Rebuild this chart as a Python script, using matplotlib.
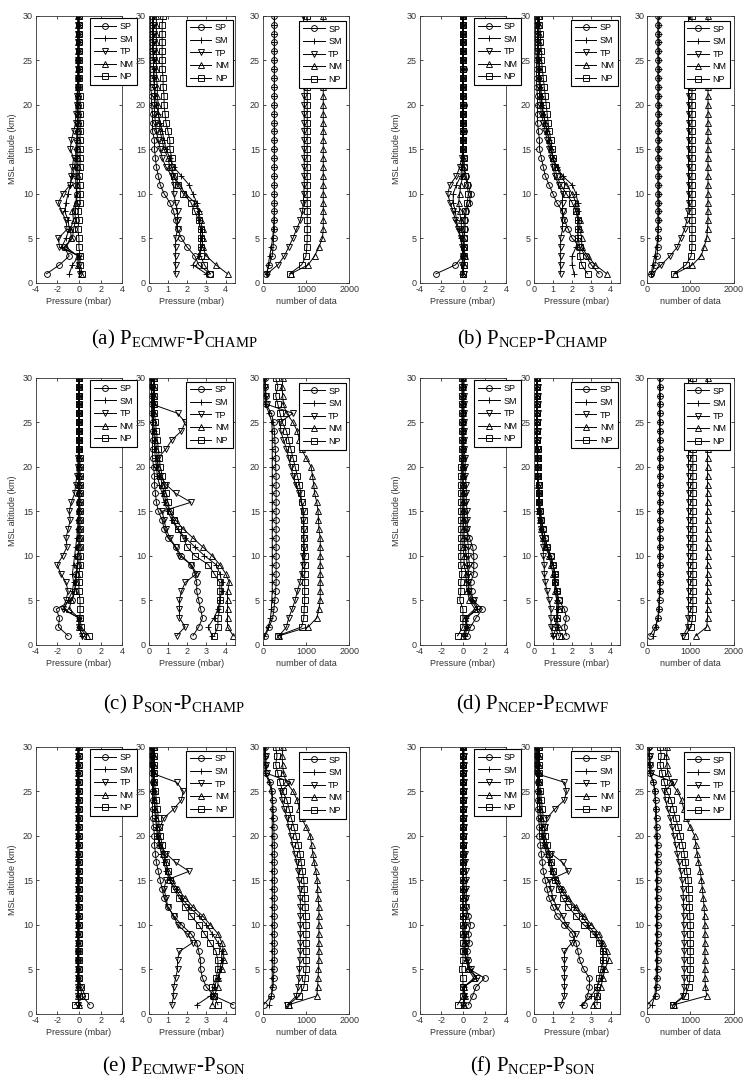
import numpy as np
import matplotlib
matplotlib.use("Agg")
import matplotlib.pyplot as plt

plt.rcParams["font.family"] = ["Liberation Sans", "DejaVu Sans"]
plt.rcParams["mathtext.fontset"] = "custom"
plt.rcParams["mathtext.rm"] = "Liberation Serif"
plt.rcParams["axes.unicode_minus"] = False

# altitude levels (km) and the five latitude bands
alt = np.arange(1, 31)
band_names = ["SP", "SM", "TP", "NM", "NP"]
band_markers = ["o", "+", "v", "^", "s"]

######### (a) ECMWF - CHAMP #########
# rows: SP, SM, TP, NM, NP
a_mean = [
    [-3.0,-1.8,-0.9,-1.4,-0.6,-0.5,-0.3,-0.4,-0.2,-0.2,-0.3,-0.3,-0.2,-0.2,-0.2,-0.2,-0.1,-0.1,-0.1,-0.1,-0.1,-0.1,-0.1,0.0,-0.1,0.0,0.0,0.0,0.0,0.0],
    [-0.9,-0.6,0.0,-1.6,-1.2,-0.9,-1.0,-1.3,-1.2,-1.0,-0.8,-0.6,-0.4,-0.3,-0.3,-0.2,-0.2,-0.1,-0.1,-0.1,-0.1,-0.1,0.0,0.0,0.0,0.0,0.0,0.0,0.0,0.0],
    [0.1,0.0,0.0,-1.8,-1.9,-1.1,-1.2,-1.6,-1.9,-1.5,-0.8,-0.7,-0.6,-0.5,-0.8,-0.7,-0.5,-0.3,-0.3,-0.2,-0.2,-0.1,-0.1,-0.1,-0.1,-0.1,-0.1,-0.1,-0.1,-0.1],
    [0.2,-0.1,-0.1,-1.2,-0.7,-0.8,-0.5,-0.6,-0.3,-0.2,-0.2,-0.1,-0.1,-0.1,-0.1,-0.1,-0.1,-0.1,-0.1,-0.1,-0.1,-0.1,-0.1,-0.1,-0.1,-0.1,-0.1,-0.1,-0.1,-0.1],
    [0.3,0.1,0.1,0.0,0.0,-0.1,0.0,-0.1,0.1,0.1,0.1,0.0,0.1,0.1,0.1,0.1,0.1,0.1,0.1,0.1,0.1,0.0,0.0,0.0,0.0,0.0,0.0,0.0,0.0,0.0],
]
a_rms = [
    [3.2,2.6,2.4,2.0,1.7,1.5,1.4,1.3,1.1,0.8,0.6,0.5,0.4,0.35,0.3,0.3,0.2,0.2,0.2,0.15,0.15,0.1,0.1,0.1,0.1,0.1,0.1,0.1,0.1,0.1],
    [3.0,2.3,2.6,2.7,2.7,2.7,2.6,2.6,2.5,2.3,2.1,1.7,1.3,1.1,0.9,0.8,0.7,0.6,0.5,0.4,0.35,0.3,0.3,0.25,0.25,0.2,0.2,0.2,0.2,0.2],
    [1.4,1.4,1.4,1.4,1.4,1.5,1.5,1.5,1.4,1.3,1.3,1.2,0.9,0.7,0.6,0.5,0.4,0.35,0.3,0.3,0.3,0.3,0.25,0.25,0.25,0.25,0.25,0.25,0.25,0.25],
    [4.1,3.5,3.0,2.8,2.8,2.8,2.7,2.6,2.4,1.9,1.6,1.3,1.1,1.0,0.8,0.7,0.6,0.55,0.5,0.5,0.45,0.45,0.4,0.4,0.4,0.4,0.4,0.4,0.4,0.4],
    [3.2,2.9,2.7,2.7,2.7,2.7,2.6,2.4,2.2,1.8,1.5,1.3,1.2,1.2,1.1,1.1,1.0,0.9,0.85,0.8,0.8,0.75,0.75,0.7,0.7,0.7,0.7,0.7,0.7,0.75],
]
a_num = [
    [80,150,220,240,250,260,270,270,270,270,270,270,270,270,270,270,270,270,270,270,270,270,270,270,270,270,270,270,270,270],
    [100,130,160,200,230,250,260,270,270,270,270,270,270,270,270,270,270,270,270,270,270,270,270,270,270,270,270,270,270,270],
    [100,350,500,600,700,780,870,920,940,950,960,960,960,960,960,960,960,960,960,960,960,960,960,960,960,960,960,960,950,940],
    [650,1050,1200,1300,1380,1400,1400,1400,1400,1400,1400,1400,1400,1400,1400,1400,1400,1400,1400,1400,1400,1400,1400,1400,1400,1400,1400,1400,1400,1400],
    [620,900,1000,1020,1030,1030,1030,1030,1030,1030,1030,1030,1030,1030,1030,1030,1030,1030,1030,1030,1030,1030,1030,1030,1030,1030,1030,1030,1030,1030],
]

######### (b) NCEP - CHAMP #########
b_mean = [
    [-2.5,-0.7,0.0,0.1,0.1,0.2,0.2,0.3,0.6,0.7,0.5,0.3,0.1,0.1,0.0,0.0,0.1,0.0,0.0,0.1,0.0,0.0,0.0,0.1,0.0,0.0,0.0,0.0,0.0,0.0],
    [-0.1,0.0,0.0,0.0,-0.2,-0.4,-0.6,-0.7,-0.9,-0.9,-0.6,-0.2,-0.1,0.0,0.0,0.0,0.0,0.0,0.0,0.0,0.0,0.0,0.0,0.0,0.0,0.0,0.0,0.0,0.0,0.0],
    [0.1,-0.1,0.0,-0.1,-0.2,-0.5,-0.7,-0.9,-1.2,-1.4,-1.2,-0.6,-0.3,-0.1,0.0,0.0,0.0,0.0,0.0,0.0,0.0,0.0,0.0,0.0,0.0,0.0,0.0,0.0,0.0,0.0],
    [0.0,0.1,0.2,0.1,0.0,-0.1,-0.2,-0.3,-0.4,-0.3,-0.2,0.0,0.0,0.0,0.0,0.0,0.0,0.0,0.0,0.0,0.0,0.0,0.0,0.0,0.0,0.0,0.0,0.0,0.0,0.0],
    [0.0,0.1,0.1,0.1,0.1,0.1,0.1,0.2,0.4,0.5,0.4,0.2,0.1,0.1,0.0,0.0,0.0,0.0,0.0,0.0,0.0,0.0,0.0,0.0,0.0,0.0,0.0,0.0,0.0,0.0],
]
b_rms = [
    [3.4,3.0,2.7,2.4,2.0,1.8,1.6,1.5,1.2,1.0,0.8,0.6,0.5,0.4,0.3,0.3,0.25,0.2,0.2,0.2,0.2,0.15,0.15,0.15,0.15,0.1,0.1,0.1,0.1,0.1],
    [2.1,2.0,2.0,2.2,2.3,2.3,2.3,2.3,2.3,2.2,2.0,1.5,1.2,1.0,0.9,0.8,0.7,0.6,0.5,0.45,0.4,0.35,0.3,0.3,0.25,0.25,0.2,0.2,0.2,0.2],
    [1.4,1.4,1.4,1.4,1.4,1.5,1.5,1.5,1.5,1.5,1.3,1.1,1.0,0.9,0.8,0.7,0.6,0.5,0.4,0.35,0.3,0.3,0.25,0.25,0.2,0.2,0.2,0.2,0.2,0.2],
    [3.8,3.2,2.8,2.5,2.5,2.4,2.4,2.2,2.2,2.0,1.7,1.4,1.2,1.0,0.9,0.8,0.7,0.6,0.5,0.4,0.4,0.35,0.3,0.3,0.3,0.25,0.25,0.25,0.25,0.25],
    [2.8,2.5,2.4,2.4,2.3,2.3,2.3,2.2,2.0,1.7,1.4,1.2,1.1,1.0,0.95,0.9,0.8,0.75,0.7,0.65,0.6,0.55,0.5,0.45,0.4,0.4,0.35,0.35,0.3,0.3],
]
b_num = [
    [100,180,230,250,250,250,250,250,250,250,250,250,250,250,250,250,250,250,250,250,250,250,250,250,250,250,250,250,250,250],
    [100,130,180,220,250,260,270,270,270,270,270,270,270,270,270,270,270,270,270,270,270,270,270,270,270,270,270,270,270,270],
    [120,330,530,700,780,870,920,950,960,960,960,960,960,960,960,960,960,960,960,960,960,960,960,960,960,960,960,960,960,960],
    [650,1050,1250,1320,1380,1400,1410,1410,1410,1410,1410,1410,1410,1410,1410,1410,1410,1410,1410,1410,1410,1410,1410,1410,1410,1410,1410,1410,1410,1410],
    [620,900,1020,1040,1040,1040,1040,1040,1040,1040,1040,1040,1040,1040,1040,1040,1040,1040,1040,1040,1040,1040,1040,1040,1040,1040,1040,1040,1040,1040],
]

######### (c) SON - CHAMP #########
c_mean = [
    [-1.0,-1.9,-1.8,-2.1,-0.6,-0.4,-0.3,-0.3,-0.1,-0.1,0.0,0.0,0.0,0.0,0.0,0.0,0.0,0.0,0.0,0.0,0.0,0.0,0.0,0.0,0.0,0.0,0.0,0.0,0.0,0.0],
    [0.3,0.0,0.0,-1.4,-1.0,-0.6,-0.5,-0.6,-0.5,-0.4,-0.3,-0.2,-0.1,-0.1,0.0,0.0,0.0,0.0,0.0,0.0,0.0,0.0,0.0,0.0,0.0,0.0,0.0,0.0,0.0,0.0],
    [0.3,0.0,0.0,-1.5,-1.2,-1.0,-1.2,-1.7,-2.0,-1.5,-1.1,-1.2,-1.0,-0.8,-0.9,-0.7,-0.4,-0.3,-0.2,-0.1,-0.1,0.0,0.0,0.0,0.0,0.0,0.0,0.0,0.0,0.0],
    [0.7,0.0,0.0,-0.9,-0.7,-0.4,-0.3,-0.2,-0.1,-0.1,0.0,0.0,0.0,0.0,0.0,0.0,0.0,0.0,0.0,0.0,0.0,0.0,0.0,0.0,0.0,0.0,0.0,0.0,0.0,0.0],
    [0.9,0.2,0.1,0.1,0.1,0.0,0.0,0.0,0.1,0.1,0.1,0.1,0.1,0.1,0.1,0.1,0.1,0.1,0.1,0.1,0.1,0.0,0.0,0.0,0.0,0.0,0.0,0.0,0.0,0.0],
]
c_rms = [
    [2.3,2.6,2.8,2.7,2.6,2.5,2.5,2.4,2.2,1.7,1.4,1.0,0.8,0.7,0.5,0.4,0.35,0.3,0.3,0.25,0.2,0.2,0.2,0.2,0.2,0.15,0.15,0.15,0.15,0.15],
    [3.3,3.1,3.4,3.6,3.7,3.8,3.8,3.7,3.5,2.9,2.4,1.9,1.5,1.2,1.0,0.8,0.7,0.55,0.45,0.4,0.35,0.3,0.3,0.25,0.2,0.2,0.2,0.15,0.15,0.15],
    [1.45,1.9,1.6,1.6,1.6,1.7,1.9,2.5,2.2,1.6,1.4,1.1,0.9,0.8,0.7,2.2,1.4,0.9,0.6,0.4,0.5,0.9,1.2,1.7,1.9,1.5,0.2,0.2,0.1,0.1],
    [4.4,4.1,4.1,4.1,4.1,4.1,4.2,4.0,3.7,3.3,2.8,2.3,1.8,1.4,1.1,0.9,0.8,0.7,0.6,0.5,0.45,0.4,0.35,0.3,0.25,0.25,0.25,0.25,0.25,0.25],
    [3.4,3.6,3.6,3.7,3.7,3.7,3.7,3.4,3.1,2.4,2.0,1.8,1.5,1.3,1.1,1.0,0.9,0.8,0.7,0.6,0.55,0.5,0.45,0.4,0.35,0.3,0.3,0.3,0.3,0.3],
]
c_num = [
    [60,150,230,260,280,300,310,310,310,310,310,310,310,310,310,310,310,310,310,300,300,290,280,270,250,200,80,70,60,50],
    [40,130,180,200,210,220,220,220,220,220,220,220,220,220,220,220,220,220,220,220,220,220,220,220,210,150,60,50,50,40],
    [380,550,600,680,750,800,860,900,930,940,950,950,950,940,930,900,850,760,700,650,600,550,480,420,400,700,100,80,60,60],
    [380,1050,1250,1300,1330,1330,1330,1330,1330,1330,1330,1330,1300,1290,1280,1250,1200,1180,1150,1120,1000,900,850,800,700,550,480,460,450,470],
    [350,900,950,960,970,970,970,970,970,970,960,950,950,950,950,900,880,850,800,750,700,650,600,550,450,400,350,300,350,300],
]

######### (d) NCEP - ECMWF #########
d_mean = [
    [0.4,0.7,1.2,1.8,0.9,0.8,0.7,1.0,1.0,1.0,0.9,0.6,0.3,0.2,0.1,0.1,0.1,0.0,0.0,0.0,0.0,0.0,0.0,0.0,0.0,0.0,0.0,0.0,0.0,0.0],
    [0.2,0.4,0.3,1.3,0.8,0.5,0.5,0.5,0.4,0.3,0.2,0.1,0.1,0.0,0.0,0.0,0.0,0.0,0.0,0.0,0.0,0.0,0.0,0.0,0.0,0.0,0.0,0.0,0.0,0.0],
    [0.1,0.3,0.3,1.4,1.0,0.6,0.5,0.5,0.6,0.5,0.5,0.4,0.4,0.4,0.4,0.3,0.3,0.3,0.2,0.2,0.2,0.1,0.1,0.1,0.1,0.1,0.1,0.1,0.1,0.1],
    [0.0,0.3,0.2,1.1,0.6,0.4,0.3,0.3,0.1,0.1,0.0,0.0,0.0,0.0,0.0,0.0,0.0,0.0,0.0,0.0,0.0,0.0,0.0,0.0,0.0,0.0,0.0,0.0,0.0,0.0],
    [-0.5,0.0,0.0,0.0,-0.3,-0.2,-0.2,-0.1,-0.2,-0.2,-0.2,-0.2,-0.2,-0.2,-0.2,-0.2,-0.2,-0.2,-0.15,-0.15,-0.1,-0.1,-0.1,-0.1,-0.1,-0.1,-0.1,-0.1,-0.1,-0.1],
]
d_rms = [
    [1.7,1.6,1.7,1.6,1.3,1.2,1.1,1.1,1.0,0.9,0.7,0.6,0.5,0.4,0.35,0.3,0.3,0.25,0.2,0.2,0.2,0.2,0.15,0.15,0.15,0.15,0.15,0.15,0.15,0.15],
    [1.0,1.2,1.2,1.2,1.2,1.2,1.1,1.1,1.0,0.8,0.7,0.5,0.4,0.35,0.3,0.25,0.25,0.2,0.2,0.2,0.2,0.2,0.15,0.15,0.15,0.15,0.15,0.15,0.15,0.15],
    [1.0,0.9,0.9,0.9,0.8,0.7,0.6,0.55,0.55,0.5,0.5,0.45,0.4,0.35,0.3,0.25,0.25,0.25,0.2,0.2,0.2,0.2,0.2,0.2,0.2,0.2,0.2,0.2,0.2,0.2],
    [1.4,1.3,1.2,1.3,1.2,1.1,1.1,1.0,0.9,0.8,0.6,0.5,0.4,0.35,0.3,0.25,0.25,0.2,0.2,0.2,0.2,0.15,0.15,0.15,0.15,0.15,0.15,0.15,0.15,0.15],
    [1.3,1.1,1.2,1.3,1.3,1.2,1.1,1.1,1.0,0.9,0.7,0.6,0.5,0.4,0.35,0.3,0.3,0.25,0.2,0.2,0.2,0.2,0.15,0.15,0.15,0.15,0.15,0.15,0.15,0.15],
]
d_num = [
    [60,190,260,280,290,300,300,300,300,300,300,300,300,300,300,300,300,300,300,300,300,300,300,300,300,300,300,300,300,300],
    [150,200,250,270,280,290,290,290,290,290,290,290,290,290,290,290,290,290,290,290,290,290,290,290,290,290,290,290,290,290],
    [840,940,950,960,960,960,960,960,960,960,960,960,960,960,960,960,960,960,960,960,960,960,960,960,960,960,960,960,960,960],
    [1130,1380,1400,1400,1400,1400,1400,1400,1400,1400,1400,1400,1400,1400,1400,1400,1400,1400,1400,1400,1400,1400,1400,1400,1400,1400,1400,1400,1400,1400],
    [880,1020,1050,1060,1060,1060,1060,1060,1060,1060,1060,1060,1060,1060,1060,1060,1060,1060,1060,1060,1060,1060,1060,1060,1060,1060,1060,1060,1060,1060],
]

######### (e) ECMWF - SON #########
e_mean = [
    [1.0,0.3,0.1,0.0,0.0,-0.1,-0.1,0.0,0.0,0.0,0.0,0.0,0.0,0.0,0.0,0.0,0.0,0.0,0.0,0.0,0.0,0.0,0.0,0.0,0.0,0.0,0.0,0.0,0.0,0.0],
    [0.0,-0.1,-0.1,-0.1,-0.1,-0.1,-0.1,-0.1,-0.1,-0.1,-0.1,-0.1,-0.1,-0.1,-0.1,-0.1,-0.1,-0.1,-0.1,-0.1,-0.1,-0.1,-0.1,-0.1,-0.1,-0.1,-0.1,-0.1,-0.1,-0.1],
    [-0.1,-0.1,-0.1,-0.1,-0.1,-0.1,-0.1,-0.1,-0.1,-0.1,-0.1,-0.1,-0.1,-0.1,-0.1,-0.1,-0.1,-0.1,-0.1,-0.1,-0.1,-0.1,-0.1,-0.1,-0.1,-0.1,-0.1,-0.1,-0.1,-0.1],
    [0.0,-0.1,-0.1,-0.1,-0.1,-0.1,-0.1,-0.1,-0.1,-0.1,-0.1,-0.1,-0.1,-0.1,-0.1,-0.1,-0.1,-0.1,-0.1,-0.1,-0.1,-0.1,-0.1,-0.1,-0.1,-0.1,-0.1,-0.1,-0.1,-0.1],
    [-0.4,0.6,0.2,0.0,0.0,0.0,0.0,0.0,0.0,0.0,0.0,0.0,0.0,0.0,0.0,0.0,0.0,0.0,0.0,0.0,0.0,0.0,0.0,0.0,0.0,0.0,0.0,0.0,0.0,0.0],
]
e_rms = [
    [4.4,3.4,3.0,2.8,2.7,2.7,2.6,2.5,2.2,1.7,1.3,1.0,0.8,0.7,0.6,0.5,0.4,0.35,0.3,0.3,0.25,0.2,0.2,0.2,0.2,0.2,0.15,0.15,0.15,0.15],
    [2.5,3.2,3.4,3.6,3.7,3.8,3.8,3.6,3.3,3.0,2.6,2.1,1.7,1.4,1.1,0.9,0.8,0.65,0.55,0.45,0.4,0.35,0.3,0.3,0.25,0.25,0.2,0.2,0.2,0.2],
    [1.2,1.3,1.3,1.4,1.5,1.5,1.6,2.3,2.0,1.5,1.3,1.0,0.9,0.8,0.9,2.1,1.4,0.9,0.6,0.5,0.6,0.8,1.3,1.7,1.8,1.45,0.2,0.1,0.1,0.1],
    [3.3,3.4,3.6,3.6,3.8,3.9,3.9,3.8,3.6,3.2,2.8,2.3,1.9,1.5,1.2,1.0,0.9,0.75,0.6,0.5,0.45,0.4,0.35,0.3,0.25,0.25,0.25,0.25,0.25,0.25],
    [3.6,3.4,3.3,3.5,3.6,3.6,3.5,3.2,2.9,2.6,2.2,1.9,1.6,1.3,1.1,1.0,0.9,0.8,0.7,0.6,0.55,0.5,0.45,0.4,0.35,0.3,0.3,0.3,0.3,0.3],
]
e_num = [
    [20,200,240,250,260,270,270,270,270,270,270,270,270,270,270,270,270,270,270,260,260,250,240,230,220,180,70,60,50,50],
    [150,200,220,220,220,220,220,220,220,220,220,220,220,220,220,220,220,220,220,220,220,220,220,220,200,150,60,50,50,40],
    [570,780,820,840,850,860,870,870,870,870,870,870,870,860,840,820,790,740,690,650,600,560,500,450,420,650,100,80,70,60],
    [600,1250,1270,1280,1290,1300,1300,1300,1300,1300,1300,1300,1280,1270,1260,1230,1190,1160,1130,1100,1000,900,850,800,700,550,480,460,450,470],
    [590,850,950,980,1000,1000,1000,1000,1000,1000,990,980,970,960,950,920,890,860,820,770,720,660,610,560,460,400,350,300,330,300],
]

######### (f) NCEP - SON #########
f_mean = [
    [0.5,0.9,1.2,2.0,0.6,0.5,0.4,0.6,0.5,0.7,0.5,0.3,0.2,0.1,0.1,0.0,0.0,0.0,0.0,0.0,0.0,0.0,0.0,0.0,0.0,0.0,0.0,0.0,0.0,0.0],
    [0.0,0.2,0.1,1.2,0.6,0.3,0.2,0.2,0.1,0.1,0.0,0.0,0.0,0.0,0.0,0.0,0.0,0.0,0.0,0.0,0.0,0.0,0.0,0.0,0.0,0.0,0.0,0.0,0.0,0.0],
    [0.0,0.1,0.0,1.3,0.7,0.4,0.1,0.3,0.2,0.2,0.3,0.3,0.3,0.3,0.3,0.3,0.2,0.2,0.1,0.1,0.1,0.1,0.1,0.1,0.1,0.1,0.1,0.1,0.1,0.1],
    [0.1,0.2,0.1,1.0,0.5,0.3,0.1,0.1,0.0,0.0,0.0,0.0,0.0,0.0,0.0,0.0,0.0,0.0,0.0,0.0,0.0,0.0,0.0,0.0,0.0,0.0,0.0,0.0,0.0,0.0],
    [-0.5,0.0,0.0,0.0,-0.1,0.0,0.0,0.0,0.0,0.0,0.0,0.0,0.0,0.0,0.0,0.0,0.0,0.0,0.0,0.0,0.0,0.0,0.0,0.0,0.0,0.0,0.0,0.0,0.0,0.0],
]
f_rms = [
    [2.6,2.8,2.9,2.9,2.6,2.4,2.3,2.2,2.0,1.6,1.2,1.0,0.8,0.7,0.6,0.5,0.45,0.4,0.35,0.3,0.3,0.25,0.2,0.2,0.2,0.2,0.2,0.15,0.15,0.15],
    [2.5,3.0,3.3,3.5,3.6,3.6,3.6,3.5,3.2,2.8,2.5,2.1,1.7,1.4,1.1,0.9,0.8,0.65,0.55,0.45,0.4,0.35,0.3,0.3,0.25,0.25,0.2,0.2,0.2,0.2],
    [1.4,1.6,1.6,1.6,1.6,1.6,1.6,2.0,2.2,1.7,1.5,1.2,1.0,0.9,0.8,1.8,1.5,0.9,0.6,0.5,0.6,0.7,1.1,1.6,1.7,1.6,0.1,0.1,0.1,0.1],
    [3.1,3.3,3.5,3.6,3.7,3.9,3.8,3.6,3.4,3.0,2.6,2.2,1.8,1.5,1.2,1.0,0.9,0.75,0.6,0.5,0.45,0.4,0.35,0.3,0.25,0.25,0.25,0.25,0.25,0.25],
    [3.3,3.3,3.3,3.4,3.5,3.6,3.6,3.4,3.1,2.6,2.2,1.8,1.5,1.3,1.1,1.0,0.9,0.8,0.7,0.6,0.55,0.5,0.45,0.4,0.35,0.3,0.3,0.3,0.3,0.3],
]
f_num = [
    [10,200,230,240,250,250,250,250,250,250,250,250,250,250,250,250,250,250,250,240,230,220,210,200,180,150,80,60,50,50],
    [120,180,200,210,220,220,220,220,220,220,220,220,220,220,220,220,220,220,220,210,210,200,200,190,180,150,60,50,50,40],
    [600,840,860,860,860,860,860,860,860,850,850,850,840,830,810,780,740,700,660,620,580,540,480,430,400,620,100,80,60,60],
    [620,1380,1350,1340,1340,1340,1340,1340,1340,1340,1330,1320,1300,1280,1260,1230,1190,1160,1130,1100,1000,900,850,800,700,550,480,460,450,470],
    [610,880,960,990,1000,1000,1000,1000,1000,1000,990,980,970,960,950,920,890,860,820,770,720,660,610,560,460,400,350,300,330,300],
]

captions = [
    r"(a) P$_{\mathrm{ECMWF}}$-P$_{\mathrm{CHAMP}}$",
    r"(b) P$_{\mathrm{NCEP}}$-P$_{\mathrm{CHAMP}}$",
    r"(c) P$_{\mathrm{SON}}$-P$_{\mathrm{CHAMP}}$",
    r"(d) P$_{\mathrm{NCEP}}$-P$_{\mathrm{ECMWF}}$",
    r"(e) P$_{\mathrm{ECMWF}}$-P$_{\mathrm{SON}}$",
    r"(f) P$_{\mathrm{NCEP}}$-P$_{\mathrm{SON}}$",
]
panel_data = [
    (a_mean, a_rms, a_num),
    (b_mean, b_rms, b_num),
    (c_mean, c_rms, c_num),
    (d_mean, d_rms, d_num),
    (e_mean, e_rms, e_num),
    (f_mean, f_rms, f_num),
]

######### layout (pixels of a 744x1080 page) #########
W, H = 744.0, 1080.0
col_lefts = [[35.7, 148.7, 262.7], [419.7, 533.7, 647.0]]
row_tops = [15.7, 377.7, 746.7]
ax_w, ax_h = 86.5, 267.0
cap_x = [174.0, 533.0]
cap_y = [339.0, 704.0, 1066.0]

xlims = [(-4, 4), (0, 4.5), (0, 2000)]
xticks = [[-4, -2, 0, 2, 4], [0, 1, 2, 3, 4], [0, 1000, 2000]]
xlabels = ["Pressure (mbar)", "Pressure (mbar)", "number of data"]
leg_anchor = [(1.17, 0.99), (0.97, 0.985), (0.96, 0.98)]

txt_col = "#333333"

fig = plt.figure(figsize=(W / 100, H / 100), dpi=100)

for p in range(6):
    r, c = p // 2, p % 2
    for k in range(3):
        left = col_lefts[c][k]
        ax = fig.add_axes([left / W, 1 - (row_tops[r] + ax_h) / H, ax_w / W, ax_h / H])
        for vals, name, mk in zip(panel_data[p][k], band_names, band_markers):
            ax.plot(vals, alt, color="black", lw=0.7, marker=mk, ms=4.2,
                    mfc="none", mew=0.65, label=name)
        ax.set_xlim(*xlims[k])
        ax.set_ylim(0, 30)
        ax.set_xticks(xticks[k])
        ax.set_yticks([0, 5, 10, 15, 20, 25, 30])
        ax.tick_params(direction="in", top=True, right=True, length=2.5, width=0.5,
                       labelsize=6.5, labelcolor=txt_col, pad=2)
        for sp in ax.spines.values():
            sp.set_linewidth(0.6)
            sp.set_color("#333333")
        ax.set_xlabel(xlabels[k], fontsize=6.5, color=txt_col, labelpad=2)
        if k == 0:
            ax.set_ylabel("MSL altitude (km)", fontsize=6.5, color=txt_col)
            ax.yaxis.set_label_coords(-0.22, 0.5)
        leg = ax.legend(loc="upper right", bbox_to_anchor=leg_anchor[k], fontsize=6.5,
                        frameon=True, fancybox=False, framealpha=1, edgecolor="black",
                        handlelength=2.4, handletextpad=0.4, labelspacing=0.4,
                        borderpad=0.4, borderaxespad=0)
        leg.get_frame().set_linewidth(0.8)
    fig.text(cap_x[c] / W, 1 - cap_y[r] / H, captions[p], ha="center", va="center",
             fontsize=15, family="Liberation Serif")

fig.savefig("out.png", dpi=100)
